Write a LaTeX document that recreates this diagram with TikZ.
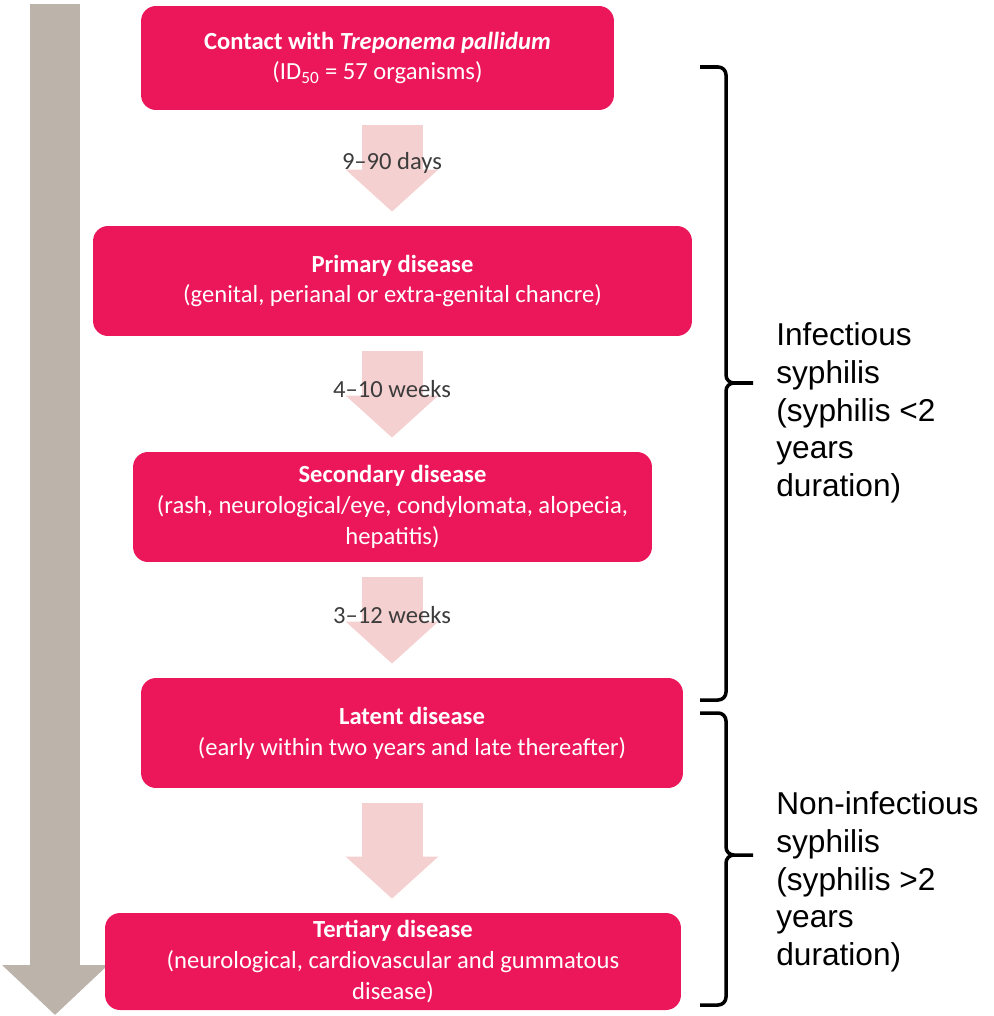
\documentclass[tikz,border=0pt]{standalone}
\usepackage{fontspec}
\setmainfont{Carlito}
\newfontfamily\sidefont{Liberation Sans}
\usetikzlibrary{arrows.meta}

\definecolor{boxpink}{RGB}{236,22,90}
\definecolor{flowpink}{RGB}{245,208,208}
\definecolor{timegray}{RGB}{188,179,170}
\definecolor{labelgray}{RGB}{60,60,60}

\begin{document}
\begin{tikzpicture}[x=0.02cm, y=-0.02cm,
  box/.style={fill=boxpink, rounded corners=0.3cm, text=white, font=\fontsize{14}{17.5}\selectfont, align=center, minimum height=2.2cm},
  flow/.style={draw=flowpink, line width=1.22cm, -{Triangle[width=1.8cm,length=0.84cm]}, shorten <=0.3cm, shorten >=0.28cm},
  gap/.style={text=labelgray, font=\fontsize{14}{16}\selectfont},
  side/.style={font=\sidefont\fontsize{18}{21.5}\selectfont, align=left, inner sep=0pt, anchor=west},
  bracket/.style={line width=2pt, rounded corners=4.5pt}]
  \useasboundingbox (0,0) rectangle (993,1016);
  % time axis
  \coordinate (tstart) at (55,4);
  \coordinate (tend) at (55,1015);
  \draw[draw=timegray, line width=1.02cm, -{Triangle[width=2.06cm,length=1cm]}] (tstart) -- (tend);
  % stages
  \node[box, minimum width=9.46cm, minimum height=2.08cm] (contact) at (377.5,58) {\textbf{Contact with \textit{Treponema pallidum}}\\(ID\textsubscript{50} = 57 organisms)};
  \node[box, minimum width=11.98cm] (primary) at (392.5,281) {\textbf{Primary disease}\\(genital, perianal or extra-genital chancre)};
  \node[box, minimum width=10.38cm] (secondary) at (392.5,507) {\textbf{Secondary disease}\\(rash, neurological/eye, condylomata, alopecia,\\hepatitis)};
  \node[box, minimum width=10.84cm] (latent) at (412,733) {\textbf{Latent disease}\\(early within two years and late thereafter)};
  \node[box, minimum width=11.52cm, minimum height=1.94cm] (tertiary) at (393,961.5) {\textbf{Tertiary disease}\\(neurological, cardiovascular and gummatous\\disease)};
  % block arrows between stages
  \coordinate (flowaxis) at (392,0);
  \foreach \a/\b/\t in {contact/primary/9–90 days, primary/secondary/4–10 weeks, secondary/latent/3–12 weeks}
    {\draw[flow] (\a.south -| flowaxis) -- (\b.north -| flowaxis) node[gap, pos=0.46] {\t};}
  \draw[flow] (latent.south -| flowaxis) -- (tertiary.north -| flowaxis);
  % braces and groups
  \foreach \ya/\ym/\yb in {67/383/700, 713/855/1005}
    {\draw[bracket] (700,\ya) -- (726,\ya) -- (726,\ym) -- (753,\ym) (753,\ym) -- (726,\ym) -- (726,\yb) -- (700,\yb);}
  \node[side] (infectious) at (776,413) {Infectious\\syphilis\\(syphilis <2\\years\\duration)};
  \node[side] (noninfectious) at (776,882) {Non-infectious\\syphilis\\(syphilis >2\\years\\duration)};
\end{tikzpicture}
\end{document}
